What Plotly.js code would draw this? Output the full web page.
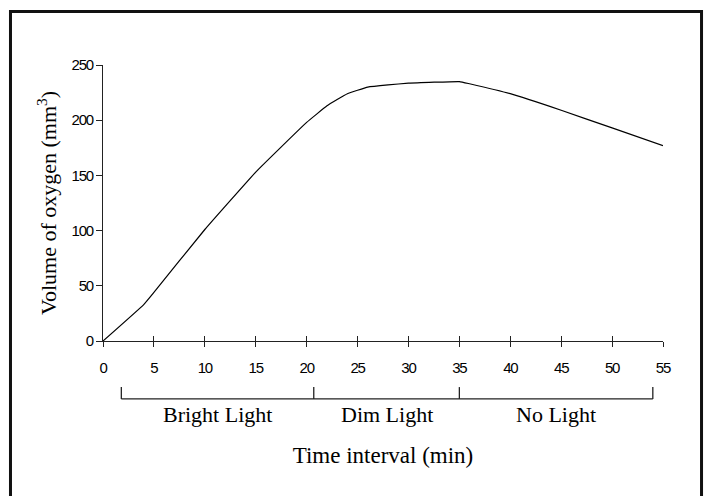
<!DOCTYPE html>
<html>
<head>
<meta charset="utf-8">
<script src="https://cdn.plot.ly/plotly-3.0.1.min.js"></script>
<style>
html, body { margin: 0; padding: 0; background: #fff; }
#chart { width: 705px; height: 496px; }
.xtick text, .ytick text { letter-spacing: -1.2px; }
</style>
</head>
<body>
<div id="chart"></div>
<script>
// Time (min) and volume of oxygen (mm^3)
const timeMin = [0, 4, 5, 10, 15, 20, 22, 24, 26, 28, 30, 35, 36, 40, 45, 50, 55];
const oxygen  = [0, 33, 44, 101, 153, 198, 213, 224, 230, 232, 233.5, 235, 233, 224, 209, 193, 177];

// Light phases along the time axis
const phaseBounds = [1.8, 20.7, 35, 54];
const phaseNames = ['Bright Light', 'Dim Light', 'No Light'];

const xTickVals = [0, 5, 10, 15, 20, 25, 30, 35, 40, 45, 50, 55];
const yTickVals = [0, 50, 100, 150, 200, 250];

const serif = 'Liberation Serif, Times New Roman, serif';
const sans = 'Liberation Sans, Arial, sans-serif';

const traces = [
  {
    x: timeMin, y: oxygen, type: 'scatter', mode: 'lines',
    line: { color: '#000', width: 1.2, shape: 'spline', smoothing: 0.3 },
    hoverinfo: 'skip', showlegend: false
  },
  {
    x: timeMin, y: oxygen, xaxis: 'x2', type: 'scatter', mode: 'lines',
    line: { color: 'rgba(0,0,0,0)', width: 0 },
    hoverinfo: 'skip', showlegend: false
  }
];

const shapes = [];
// bracket horizontal line
shapes.push({
  type: 'line', xref: 'x', yref: 'paper',
  x0: phaseBounds[0], x1: phaseBounds[phaseBounds.length - 1],
  y0: -0.210, y1: -0.210, line: { color: '#222', width: 1.3 }
});
phaseBounds.forEach(b => {
  shapes.push({
    type: 'line', xref: 'x', yref: 'paper',
    x0: b, x1: b, y0: -0.167, y1: -0.210, line: { color: '#222', width: 1.3 }
  });
});
// outer frame
shapes.push({
  type: 'rect', xref: 'paper', yref: 'paper',
  x0: -0.1652, x1: 1.0688, y0: -0.66, y1: 1.1938,
  line: { color: '#111', width: 3 }, fillcolor: 'rgba(0,0,0,0)', layer: 'above'
});

const annotations = phaseNames.map((name, i) => ({
  text: name, xref: 'x', yref: 'paper',
  x: (phaseBounds[i] + phaseBounds[i + 1]) / 2, y: -0.268,
  xanchor: 'center', yanchor: 'middle', showarrow: false,
  font: { family: serif, size: 22, color: '#000' }
}));

const layout = {
  width: 705, height: 496,
  margin: { l: 103, r: 42, t: 65, b: 155 },
  paper_bgcolor: '#fff', plot_bgcolor: '#fff',
  showlegend: false,
  xaxis: {
    range: [0, 55], tickvals: xTickVals, ticktext: xTickVals.map(String),
    ticks: 'outside', ticklen: 5, tickwidth: 1, tickcolor: '#222',
    showline: true, linecolor: '#222', linewidth: 1,
    showgrid: false, zeroline: false, ticklabelstandoff: 8,
    tickfont: { family: sans, size: 15, color: '#000' },
    title: { text: 'Time interval (min)', standoff: 71,
             font: { family: serif, size: 23, color: '#000' } },
    fixedrange: true
  },
  xaxis2: {
    overlaying: 'x', anchor: 'y', side: 'bottom',
    range: [0, 55], tickvals: xTickVals,
    ticks: 'inside', ticklen: 5, tickwidth: 1, tickcolor: '#222',
    showticklabels: false, showline: false, showgrid: false, zeroline: false
  },
  yaxis: {
    range: [0, 250], tickvals: yTickVals, ticktext: yTickVals.map(String),
    ticks: 'outside', ticklen: 6, tickwidth: 1, tickcolor: '#222',
    showline: true, linecolor: '#222', linewidth: 1,
    showgrid: false, zeroline: false,
    tickfont: { family: sans, size: 15, color: '#000' },
    title: { text: 'Volume of oxygen (mm<sup>3</sup>)', standoff: 8,
             font: { family: serif, size: 22, color: '#000' } },
    fixedrange: true
  },
  shapes: shapes,
  annotations: annotations
};

Plotly.newPlot('chart', traces, layout, { displayModeBar: false, staticPlot: true });
</script>
</body>
</html>
